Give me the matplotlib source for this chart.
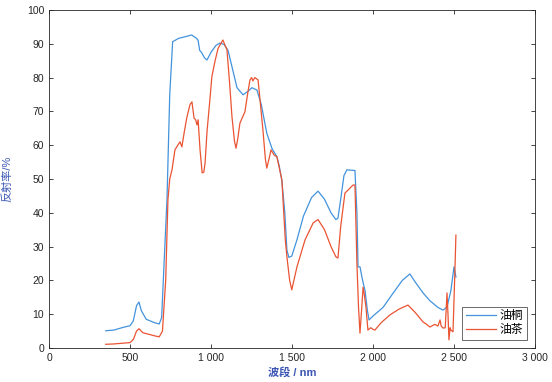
import numpy as np
import matplotlib
matplotlib.use('Agg')
import matplotlib.pyplot as plt
from matplotlib.ticker import FuncFormatter

plt.rcParams['font.family'] = ['Liberation Sans', 'Noto Sans CJK SC']

# 油桐 (blue)
tung_x = [350, 400, 450, 500, 520, 540, 555, 570, 600, 650, 680, 695, 710, 728, 745, 763,
          800, 850, 880, 910, 920, 930, 940, 960, 975, 1000, 1030, 1055, 1080, 1105, 1130,
          1160, 1197, 1230, 1252, 1283, 1310, 1344, 1376, 1406, 1420, 1437, 1455, 1468, 1480,
          1498, 1530, 1570, 1620, 1660, 1700, 1740, 1770, 1783, 1800, 1820, 1838, 1888, 1900,
          1907, 1919, 1935, 1950, 1965, 1975, 2000, 2061, 2120, 2180, 2227, 2260, 2308, 2350,
          2400, 2431, 2456, 2480, 2499, 2511]
tung_y = [5.1, 5.3, 6.0, 6.6, 8, 12.5, 13.6, 11, 8.5, 7.5, 7.1, 9, 25, 44, 75, 90.6,
          91.6, 92.2, 92.6, 91.6, 91, 88, 87.5, 85.8, 85.2, 87.5, 89.5, 90.2, 89.8, 88, 83,
          77, 74.9, 76, 77, 76.3, 72, 63.5, 59, 56.6, 54, 49.5, 40, 29, 26.8,
          27.2, 32, 39, 44.5, 46.4, 44, 40, 38, 38.4, 44, 51, 52.7, 52.5, 40,
          24, 24, 20, 17, 11, 8.3, 9.5, 12, 16, 20, 21.9, 19.5, 16.3, 14,
          12, 11.2, 12.1, 17, 24, 21]

# 油茶 (red)
tea_x = [350, 400, 450, 500, 520, 540, 555, 580, 620, 660, 680, 700, 720, 734, 745, 759,
         777, 795, 808, 820, 835, 851, 870, 882, 895, 905, 913, 920, 932, 945, 955, 963,
         975, 990, 1005, 1025, 1043, 1073, 1098, 1115, 1129, 1145, 1154, 1165, 1178, 1209,
         1225, 1240, 1250, 1258, 1270, 1290, 1305, 1320, 1335, 1344, 1358, 1370, 1390, 1406,
         1437, 1444, 1458, 1468, 1485, 1498, 1530, 1580, 1630, 1660, 1700, 1740, 1770, 1783,
         1800, 1826, 1857, 1876, 1888, 1900, 1910, 1919, 1930, 1938, 1945, 1956, 1968, 1985,
         2000, 2011, 2050, 2104, 2160, 2215, 2260, 2308, 2330, 2351, 2380, 2400, 2413, 2420,
         2431, 2445, 2456, 2462, 2468, 2475, 2480, 2493, 2503, 2511]
tea_y = [1.1, 1.2, 1.4, 1.6, 2.5, 5, 5.7, 4.5, 4, 3.5, 3.3, 5, 20, 44, 50, 52.7,
         58.6, 60, 61, 59.5, 64, 68.3, 72, 72.8, 68, 67.5, 66, 67.5, 58.6, 51.8, 52, 54.7,
         64, 72, 80.3, 85, 88.6, 91.1, 88.2, 78, 68.4, 61, 59.1, 62, 66.5, 69.9,
         75, 79.3, 80, 79, 80, 79.3, 72, 64.5, 56, 53.2, 56, 58.6, 57, 56.6,
         49.7, 43.8, 32, 27, 20, 17.2, 24, 32, 37, 38, 35, 30, 27, 26.6,
         36, 45.8, 47.3, 48.2, 48.2, 25, 12, 4.4, 12, 18, 16, 12, 5.3, 6,
         5.5, 5.3, 7.5, 9.8, 11.5, 12.7, 10.5, 7.7, 7, 6.2, 7, 6.5, 8.3, 6.5,
         5.9, 6, 16.3, 10, 2.4, 6, 5.3, 4.8, 20, 33.4]

fig = plt.figure(figsize=(5.52, 3.82), dpi=100)
ax = fig.add_axes([0.0888, 0.089, 0.8807, 0.885])
ax.plot(tung_x, tung_y, color='#4393dc', lw=0.9, label='油桐')
ax.plot(tea_x, tea_y, color='#ea5433', lw=0.9, label='油茶')

ax.set_xlim(0, 3000)
ax.set_ylim(0, 100)
ax.set_xticks(np.arange(0, 3001, 500))
ax.set_yticks(np.arange(0, 101, 10))
ax.xaxis.set_major_formatter(FuncFormatter(lambda v, p: f'{int(v):,}'.replace(',', ' ')))
ax.tick_params(direction='in', top=True, right=True, length=3, width=0.6,
               labelsize=7.5, labelcolor='#262626', color='#262626')
for s in ax.spines.values():
    s.set_linewidth(0.6)
    s.set_color('#262626')

ax.set_xlabel('波段 / nm', color='#3a55b4', fontsize=8, fontweight='bold', labelpad=3)
ax.set_ylabel('反射率/%', color='#3a55b4', fontsize=8)
ax.yaxis.set_label_coords(-0.075, 0.5)

leg = ax.legend(loc='lower right', fontsize=8.5, frameon=True, fancybox=False,
                edgecolor='#262626', borderaxespad=0.7, handlelength=2.6,
                handletextpad=0.3, borderpad=0.3, labelspacing=0.15)
leg.get_frame().set_linewidth(0.6)

fig.savefig('out.png', dpi=100)
